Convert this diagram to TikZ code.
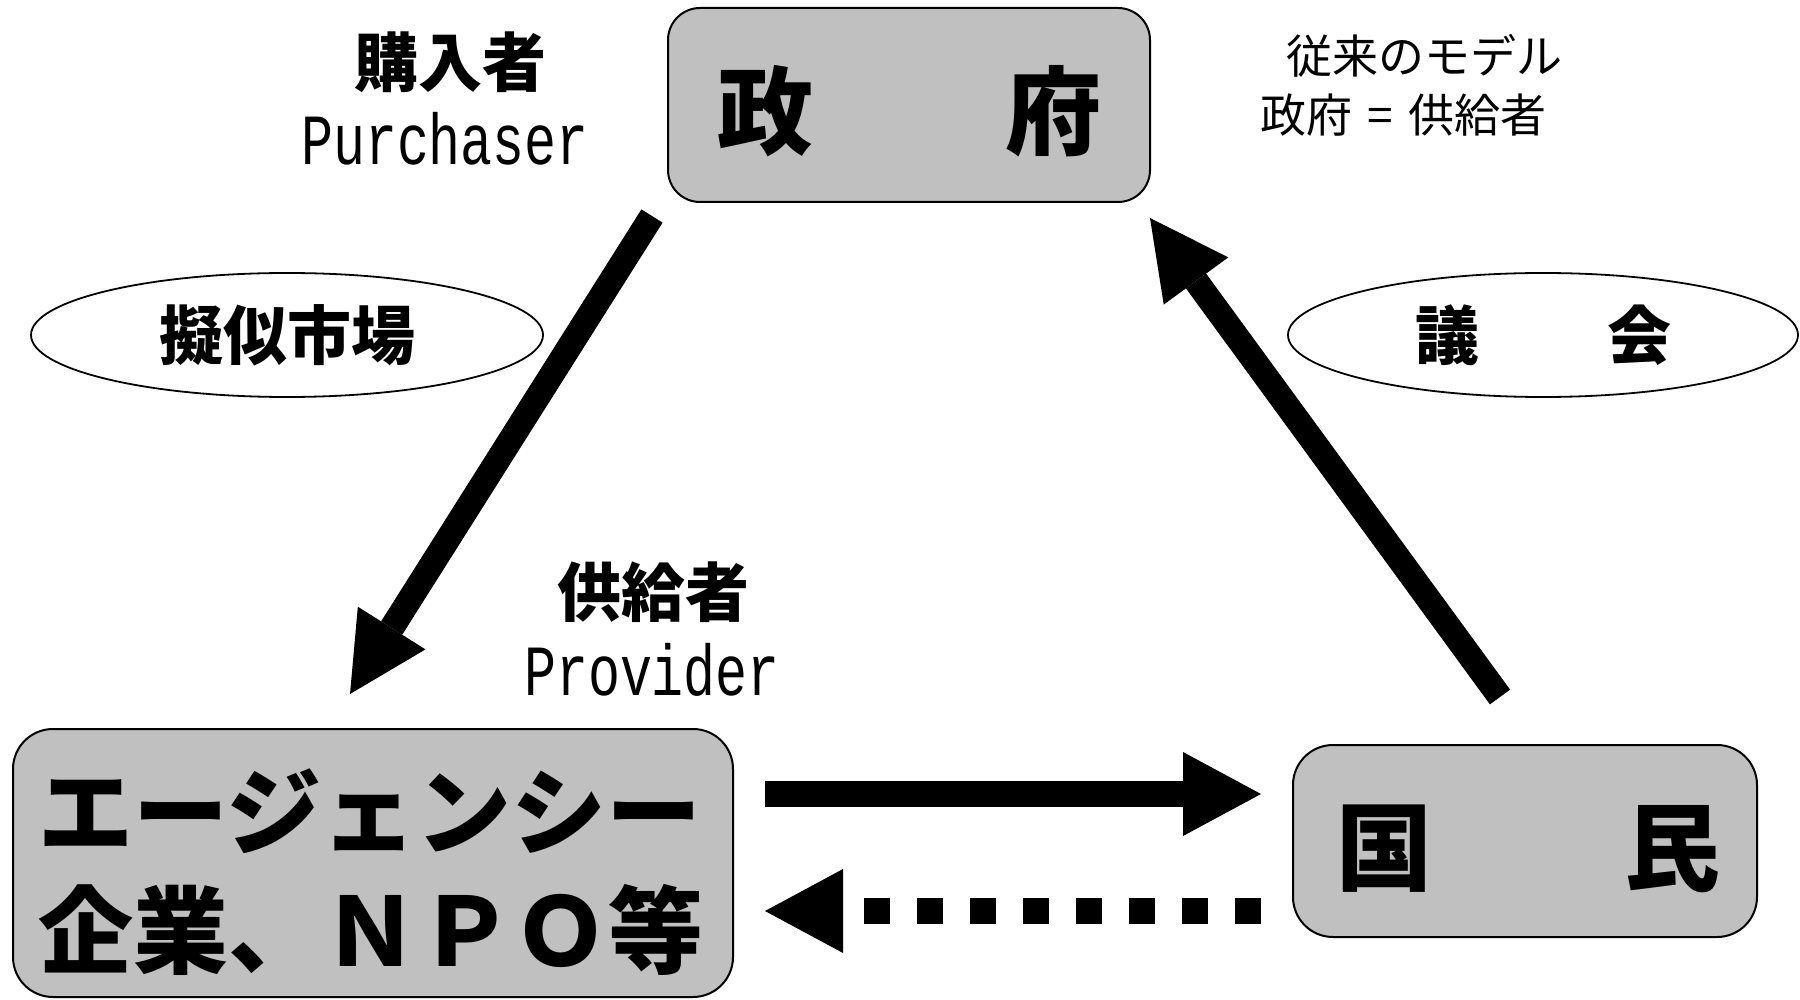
\documentclass[tikz,border=0pt]{standalone}
\usepackage{fontspec}
\setmainfont{Noto Sans CJK JP}
\newfontfamily\monofam{Liberation Mono}
\usetikzlibrary{arrows.meta,shapes.geometric}
\definecolor{boxgray}{HTML}{C0C0C0}
\begin{document}
\begin{tikzpicture}[x=0.5pt,y=-0.5pt,
  graybox/.style={draw=black,line width=1pt,fill=boxgray,inner sep=0pt},
  oval/.style={draw=black,ellipse,line width=0.9pt,inner sep=0pt,minimum width=256pt,minimum height=62pt},
  bigtxt/.style={inner sep=0pt,font=\bfseries\fontsize{48}{48}\selectfont},
  midtxt/.style={inner sep=0pt,font=\bfseries\fontsize{32}{32}\selectfont},
  agtxt/.style={inner sep=0pt,anchor=west,font=\bfseries\fontsize{47.5}{47.5}\selectfont},
  smalltxt/.style={inner sep=0pt,anchor=west,font=\fontsize{23}{23}\selectfont},
  engtxt/.style={inner sep=0pt,font=\monofam\fontsize{36}{36}\selectfont},
  bigarrow/.style={line width=12.5pt,-{Triangle[length=39pt,width=40pt,line width=0pt]}},
  flatarrow/.style={line width=13pt,-{Triangle[length=39pt,width=42pt,line width=0pt]}},
  dotarrow/.style={flatarrow,dash pattern=on 13pt off 13.5pt}
]
\useasboundingbox (0,0) rectangle (1800,1000);

% boxes
\node[graybox,rounded corners=16pt,minimum width=241pt,minimum height=97pt] (gov) at (909,105) {};
\node[bigtxt] (govt) at (909,111) {政　　府};

\node[graybox,rounded corners=20pt,minimum width=232pt,minimum height=96pt] (kokumin) at (1525,841) {};
\node[bigtxt] (kokumint) at (1528,849) {国　　民};

\node[graybox,rounded corners=20pt,minimum width=360pt,minimum height=134pt] (agency) at (373,863) {};
\node[agtxt] (ag1) at (38,811) {エージェンシー};
\node[agtxt] (ag2) at (38,930) {企業、ＮＰＯ等};

% ellipses
\node[oval,font=\bfseries\fontsize{32}{32}\selectfont] (market) at (287,335) {擬似市場};
\node[oval,minimum width=255pt,font=\bfseries\fontsize{32}{32}\selectfont] (gikai) at (1543,335) {議　　会};

% labels
\node[midtxt] (buyer) at (450,62) {購入者};
\node[engtxt] (buyeren) at (445,139) {\scalebox{0.74}[1]{Purchaser}};
\node[midtxt] (prov) at (653,592) {供給者};
\node[engtxt] (proven) at (652,670) {\scalebox{0.74}[1]{Provider}};
\node[smalltxt] (old1) at (1286,56) {従来のモデル};
\node[smalltxt] (old2) at (1260,115) {政府\hspace{0.33em}=\hspace{0.33em}供給者};

% arrows
\coordinate (a1s) at (652,216);
\coordinate (a1e) at (350,694);
\coordinate (a2s) at (1500,697);
\coordinate (a2e) at (1150,218);
\coordinate (a3s) at (765,794);
\coordinate (a3e) at (1261,794);
\coordinate (a4s) at (1261,911);
\coordinate (a4e) at (765,911);

\draw[bigarrow] (a1s) -- (a1e);
\draw[bigarrow] (a2s) -- (a2e);
\draw[flatarrow] (a3s) -- (a3e);
\draw[dotarrow] (a4s) -- (a4e);
\end{tikzpicture}
\end{document}
